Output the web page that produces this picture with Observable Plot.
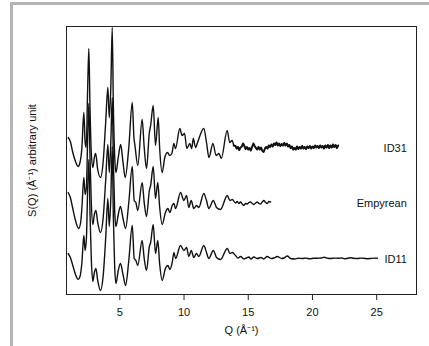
<!DOCTYPE html>
<html>
<head>
<meta charset="utf-8">
<script src="https://cdn.jsdelivr.net/npm/d3@7"></script>
<script src="https://cdn.jsdelivr.net/npm/@observablehq/plot@0.6"></script>
<style>
  html, body { margin: 0; padding: 0; background: #fff; }
  #wrap { position: relative; width: 429px; height: 346px; overflow: hidden; background: #fff; }
  #chart { position: absolute; left: 0; top: 0; }
  #edge { position: absolute; left: 10px; top: 2px; width: 419px; height: 344px;
          border-top: 3px solid #b4b4b4; border-left: 3px solid #b4b4b4; box-sizing: border-box; }
</style>
</head>
<body>
<div id="wrap"><div id="chart"></div><div id="edge"></div></div>
<script>
// Series names, vertical offsets (arbitrary units) and tick labels
const seriesNames = ["ID31", "Empyrean", "ID11"];
const seriesOffsets = [111, 56, 0];
const xTicks = [5, 10, 15, 20, 25];

// [Q, S(Q) in arbitrary units, relative to the high-Q level]
const id31 = [
  [0.98,10],[1.15,6],[1.34,-5],[1.55,-14],[1.75,-19],[1.9,-15],[2.05,0],[2.2,35],[2.3,5],[2.38,0],
  [2.5,60],[2.59,99],[2.68,40],[2.78,-5],[2.9,-20],[3.02,-10],[3.12,-6],[3.28,-22],[3.5,-30],[3.7,-15],
  [3.9,25],[4.07,60],[4.18,30],[4.3,60],[4.41,120],[4.5,40],[4.6,-8],[4.7,-25],[4.88,-10],[5.07,3],
  [5.25,-15],[5.42,-30],[5.7,0],[5.97,45],[6.1,10],[6.18,2],[6.4,-18],[6.74,28],[6.9,0],[7.08,-21],
  [7.3,15],[7.4,22],[7.6,42],[7.78,2],[7.99,30],[8.1,0],[8.3,-25],[8.5,-10],[8.72,-5],[8.88,-8],
  [9.05,-6],[9.21,4],[9.34,-1],[9.67,19],[9.85,12],[10.04,14],[10.22,-1],[10.45,4],[10.6,-1],[10.72,9],
  [10.9,0],[11.08,6],[11.54,19],[11.75,5],[11.94,-10],[12.25,4],[12.5,-8],[12.72,-6],[12.9,-11],[13.36,17],
  [13.56,5],[13.74,7],[13.87,2],
  [14.0,1.5],[14.1,-1],[14.2,0.5],[14.3,-2.5],[14.4,0],[14.5,1],[14.6,4],[14.7,1.5],[14.8,-1.5],[14.9,0.5],
  [15.0,-2],[15.1,-0.5],[15.2,-3],[15.3,0.5],[15.4,4],[15.5,1.5],[15.6,-0.5],[15.7,-2],[15.8,0.5],[15.9,-2],
  [16.0,0],[16.1,-3.5],[16.2,-4.5],[16.3,-1],[16.4,0.5],[16.5,-1],[16.6,2],[16.7,0.5],[16.8,3],[16.9,1],
  [17.0,4],[17.1,2.5],[17.2,5],[17.3,2],[17.4,4],[17.5,1.5],[17.6,3.5],[17.7,2],[17.8,4.5],[17.9,2],
  [18.0,4],[18.1,1],[18.2,2.5],[18.3,-0.5],[18.4,1],[18.5,-2],[18.6,-0.5],[18.7,-2],[18.8,1],[18.9,-1.5],
  [19.0,0.5],[19.1,-1],[19.2,1.5],[19.3,-1],[19.4,0.5],[19.5,-1.5],[19.6,1],[19.7,-0.5],[19.8,1.5],[19.9,-1],
  [20.0,1],[20.1,-0.5],[20.2,2],[20.3,0],[20.4,1.5],[20.5,-0.5],[20.6,2],[20.7,0],[20.8,1.5],[20.9,-1],
  [21.0,2],[21.1,0],[21.2,2.5],[21.3,-0.5],[21.4,2],[21.5,0],[21.6,3],[21.7,0.5],[21.8,2.5],[21.9,-0.5],[22.0,2]
];

const empyrean = [
  [0.98,10],[1.15,5],[1.34,-6],[1.55,-18],[1.8,-26],[1.95,-20],[2.05,-5],[2.2,25],[2.3,8],[2.4,15],
  [2.5,65],[2.59,99],[2.68,45],[2.78,0],[2.9,-22],[3.02,-12],[3.14,-8],[3.28,-20],[3.5,-30],[3.7,-16],
  [3.9,22],[4.07,58],[4.18,30],[4.3,60],[4.41,105],[4.5,40],[4.6,-8],[4.7,-24],[4.88,-12],[5.05,-4],
  [5.25,-16],[5.45,-26],[5.7,0],[5.97,36],[6.12,2],[6.25,0],[6.4,-8],[6.74,20],[6.9,0],[7.08,-14],
  [7.3,12],[7.4,17],[7.6,36],[7.78,4],[7.96,20],[8.1,-4],[8.3,-22],[8.55,-10],[8.74,-6],[8.9,-10],
  [9.08,-3],[9.21,-1],[9.34,-6],[9.73,10],[9.99,2],[10.2,7],[10.37,-5],[10.56,2],[10.76,-6],[10.97,-3],
  [11.15,-5],[11.54,9],[11.75,2],[11.93,-6],[12.28,2],[12.53,-5],[12.84,-7],[13.37,7],[13.57,2],[13.76,3],
  [14.01,-0.5],[14.14,1],[14.27,-1],[14.4,0.5],[14.53,-1.5],[14.66,-3],[14.79,-1],[14.92,-1.5],[15.05,0],
  [15.18,0.5],[15.31,-1],[15.44,-2],[15.57,-0.5],[15.7,0.5],[15.83,-1],[15.96,-1.5],[16.09,0.5],[16.22,2],
  [16.35,0],[16.48,-1],[16.61,1],[16.74,0.5]
];

const id11 = [
  [0.98,5],[1.15,1],[1.34,-7],[1.55,-16],[1.75,-21],[1.9,-18],[2.05,-4],[2.2,23],[2.3,8],[2.4,20],
  [2.5,70],[2.59,99],[2.68,45],[2.78,0],[2.9,-23],[3.02,-14],[3.14,-10],[3.28,-22],[3.5,-32],[3.7,-18],
  [3.9,20],[4.07,60],[4.18,32],[4.3,60],[4.41,112],[4.5,40],[4.6,-8],[4.7,-25],[4.88,-12],[5.05,-5],
  [5.25,-16],[5.45,-27],[5.7,-2],[5.97,33],[6.12,0],[6.25,-2],[6.4,-7],[6.74,18],[6.9,0],[7.08,-12],
  [7.3,12],[7.4,16],[7.6,34],[7.78,5],[7.96,18],[8.1,-5],[8.3,-22],[8.55,-10],[8.74,-7],[8.9,-11],
  [9.08,-4],[9.22,6],[9.34,0],[9.73,13],[9.99,8],[10.2,11],[10.37,2],[10.56,8],[10.76,1],[10.97,5],
  [11.15,2],[11.54,13],[11.75,6],[11.93,0],[12.28,8],[12.53,1],[12.84,-1],[13.37,10],[13.57,5],[13.76,6],
  [14.01,3],[14.2,0.5],[14.4,2],[14.66,-0.5],[14.85,0.5],[15.05,1.5],[15.2,-0.5],[15.44,1.5],[15.7,0],
  [16.0,1],[16.2,-0.5],[16.48,2],[16.8,0],[17.0,0.5],[17.26,2],[17.6,0],[17.8,0.5],[18.04,2.5],[18.3,0],
  [18.6,-0.5],[18.9,0.3],[19.2,0],[19.5,0.4],[19.8,-0.3],[20.1,0.2],[20.4,0.3],[20.7,0.5],[20.9,1.2],
  [21.2,0.2],[21.4,0],[21.7,0.4],[22.0,0.3],[22.3,0.5],[22.5,-0.3],[22.75,0.3],[22.97,0.8],[23.2,0.2],
  [23.5,0],[23.8,0.4],[24.0,0.3],[24.3,-0.2],[24.5,0],[24.8,0.4],[25.05,0.3]
];

const seriesData = [id31, empyrean, id11];
const rows = seriesData.flatMap((arr, i) =>
  arr.map(([q, s]) => ({series: seriesNames[i], Q: q, S: s + seriesOffsets[i]})));
// the noisy high-Q part of ID31 is drawn as a heavier trace
const noisyFrom = 13.87;
const rowsMain = rows.filter(d => !(d.series === "ID31" && d.Q > noisyFrom));
const rowsNoisy = rows.filter(d => d.series === "ID31" && d.Q >= noisyFrom);
const labels = seriesNames.map((name, i) => ({name, Q: 27.35, S: seriesOffsets[i]}));

const font = "'Liberation Sans', Arial, Helvetica, sans-serif";
const chart = Plot.plot({
  width: 429,
  height: 346,
  marginLeft: 66,
  marginRight: 13,
  marginTop: 26,
  marginBottom: 52,
  style: {background: "none", fontFamily: font, fontSize: "11px", color: "#111"},
  x: {domain: [0.85, 28.1], axis: null},
  y: {domain: [-36, 232], axis: null},
  marks: [
    Plot.line(rowsMain, {x: "Q", y: "S", z: "series", stroke: "#111", strokeWidth: 1.4, curve: "monotone-x", clip: true}),
    Plot.line(rowsNoisy, {x: "Q", y: "S", stroke: "#111", strokeWidth: 2, curve: "linear", clip: true}),
    Plot.frame({stroke: "#222", strokeWidth: 1}),
    Plot.axisX({ticks: xTicks, tickSize: 6, tickPadding: 8, label: null, stroke: "#222", fontSize: 11}),
    Plot.text(labels, {x: "Q", y: "S", text: "name", textAnchor: "end", dy: 1, fontSize: 11, fill: "#111"}),
    Plot.text(["Q (Å⁻¹)"], {frameAnchor: "bottom", dy: 39, fontSize: 11, fill: "#111"}),
    Plot.text(["S(Q) (Å⁻¹) arbitrary unit"], {frameAnchor: "left", textAnchor: "middle", dx: -34, rotate: -90, fontSize: 11, fill: "#111"})
  ]
});
document.getElementById("chart").appendChild(chart);
</script>
</body>
</html>
